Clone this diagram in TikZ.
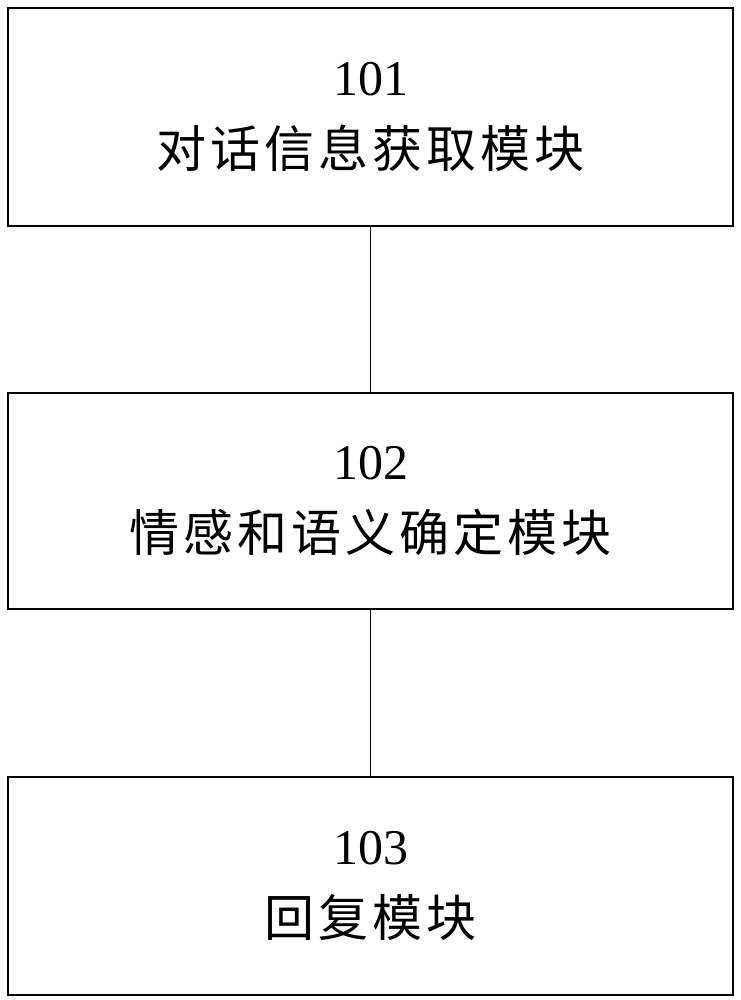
\documentclass[tikz,border=0pt]{standalone}
\usepackage{fontspec}
\setmainfont{Liberation Serif}
\newfontfamily\cjk{Noto Sans CJK SC}[Scale=1.0,LetterSpace=8]
\begin{document}
\begin{tikzpicture}[x=1pt,y=-1pt,
  box/.style={draw,line width=2pt,minimum width=725pt,inner sep=0pt},
  lbl/.style={font=\fontsize{50}{72}\selectfont,align=center}]
\useasboundingbox (0,0) rectangle (740,1000);
\node[box,minimum height=218pt] (b1) at (370.5,117) {};
\node[box,minimum height=216pt] (b2) at (370.5,501) {};
\node[box,minimum height=218pt] (b3) at (370.5,886) {};
\node[lbl] (t1) at (b1) {101\\{\cjk 对话信息获取模块}};
\node[lbl] (t2) at (b2) {102\\{\cjk 情感和语义确定模块}};
\node[lbl] (t3) at (b3) {103\\{\cjk 回复模块}};
\draw[line width=1.5pt] (b1.south) -- (b2.north);
\draw[line width=1.5pt] (b2.south) -- (b3.north);
\end{tikzpicture}
\end{document}
